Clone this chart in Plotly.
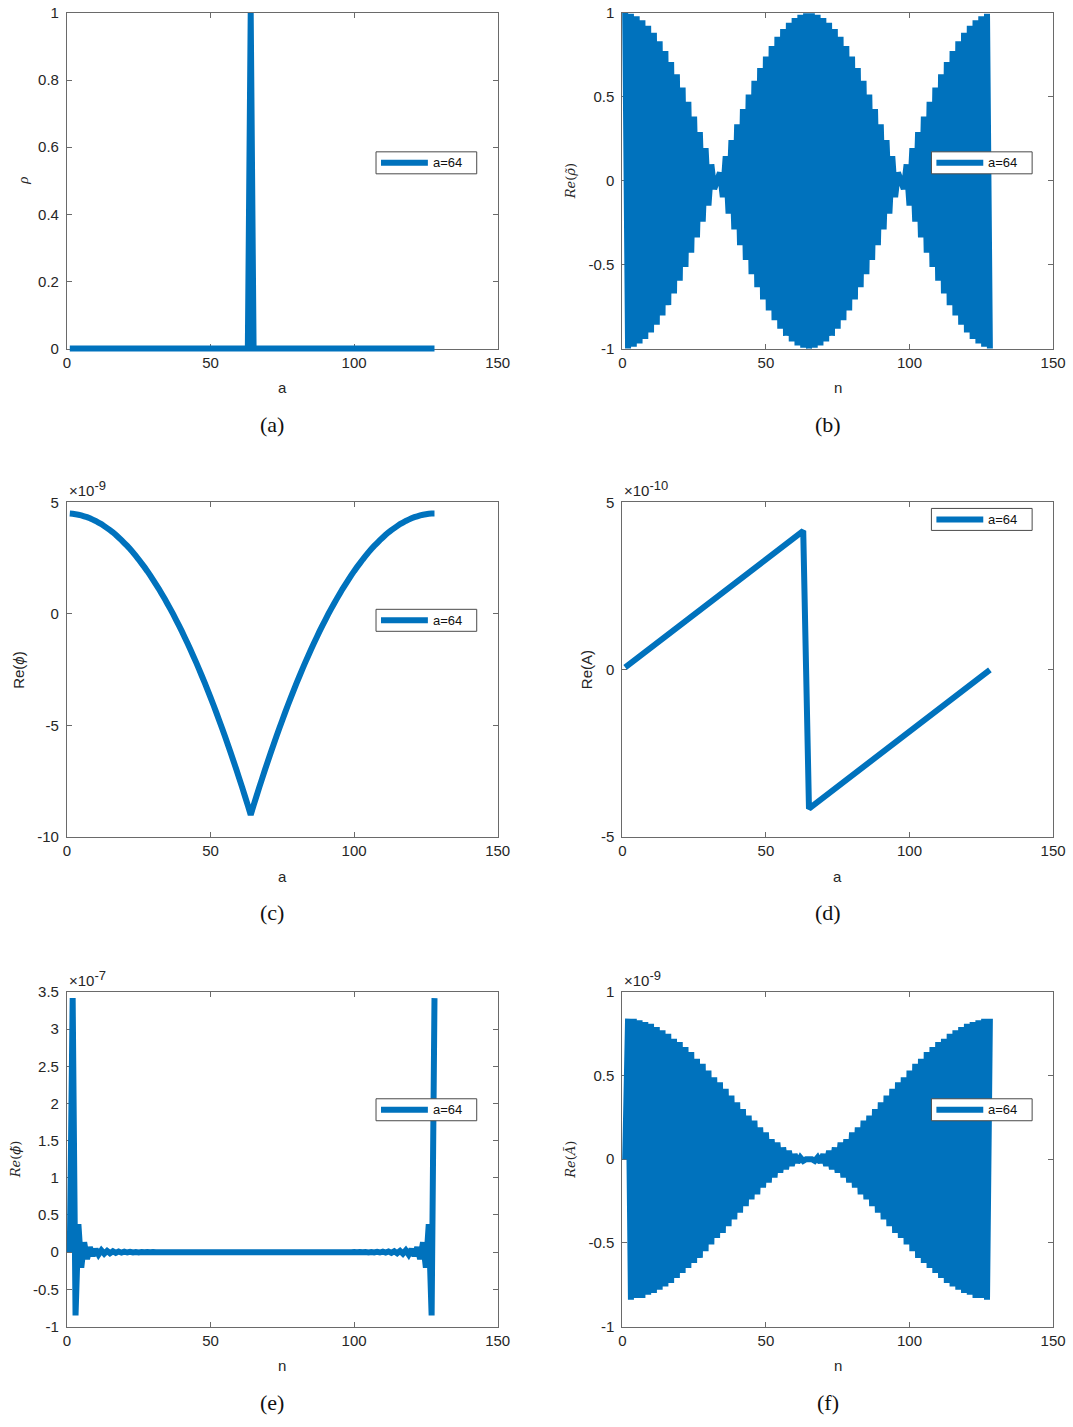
import plotly.graph_objects as go

W, H = 1073, 1427

# ---------------------------------------------------------------- data
# (a) charge density: one spike at a = 64
rho_a = [1, 63, 64, 65, 128]
rho = [0, 0, 1, 0, 0]

# (b) Re of the transformed density, n = 1..128
rho_tilde_re = [
    1.000, -0.999, 0.995, -0.989, 0.981, -0.970, 0.957, -0.942, 0.924, -0.904,
    0.882, -0.858, 0.831, -0.803, 0.773, -0.741, 0.707, -0.672, 0.634, -0.596,
    0.556, -0.514, 0.471, -0.428, 0.383, -0.337, 0.290, -0.243, 0.195, -0.147,
    0.098, -0.049, 0.000, 0.049, -0.098, 0.147, -0.195, 0.243, -0.290, 0.337,
    -0.383, 0.428, -0.471, 0.514, -0.556, 0.596, -0.634, 0.672, -0.707, 0.741,
    -0.773, 0.803, -0.831, 0.858, -0.882, 0.904, -0.924, 0.942, -0.957, 0.970,
    -0.981, 0.989, -0.995, 0.999, -1.000, 0.999, -0.995, 0.989, -0.981, 0.970,
    -0.957, 0.942, -0.924, 0.904, -0.882, 0.858, -0.831, 0.803, -0.773, 0.741,
    -0.707, 0.672, -0.634, 0.596, -0.556, 0.514, -0.471, 0.428, -0.383, 0.337,
    -0.290, 0.243, -0.195, 0.147, -0.098, 0.049, 0.000, -0.049, 0.098, -0.147,
    0.195, -0.243, 0.290, -0.337, 0.383, -0.428, 0.471, -0.514, 0.556, -0.596,
    0.634, -0.672, 0.707, -0.741, 0.773, -0.803, 0.831, -0.858, 0.882, -0.904,
    0.924, -0.942, 0.957, -0.970, 0.981, -0.989, 0.995, -0.999,
]

# (c) Re(phi) in units of 1e-9, a = 1..128
phi_re = [
    4.50, 4.49, 4.47, 4.45, 4.42, 4.38, 4.34, 4.29, 4.23, 4.17,
    4.10, 4.03, 3.94, 3.85, 3.76, 3.66, 3.55, 3.43, 3.31, 3.18,
    3.05, 2.91, 2.76, 2.60, 2.44, 2.27, 2.10, 1.92, 1.73, 1.53,
    1.33, 1.13, 0.91, 0.69, 0.46, 0.23, -0.01, -0.26, -0.51, -0.77,
    -1.04, -1.31, -1.59, -1.88, -2.17, -2.47, -2.78, -3.09, -3.41, -3.74,
    -4.07, -4.41, -4.76, -5.11, -5.47, -5.84, -6.21, -6.59, -6.97, -7.37,
    -7.76, -8.17, -8.58, -9.00,
    -8.58, -8.17, -7.76, -7.37, -6.97, -6.59, -6.21, -5.84, -5.47, -5.11,
    -4.76, -4.41, -4.07, -3.74, -3.41, -3.09, -2.78, -2.47, -2.17, -1.88,
    -1.59, -1.31, -1.04, -0.77, -0.51, -0.26, -0.01, 0.23, 0.46, 0.69,
    0.91, 1.13, 1.33, 1.53, 1.73, 1.92, 2.10, 2.27, 2.44, 2.60,
    2.76, 2.91, 3.05, 3.18, 3.31, 3.43, 3.55, 3.66, 3.76, 3.85,
    3.94, 4.03, 4.10, 4.17, 4.23, 4.29, 4.34, 4.38, 4.42, 4.45,
    4.47, 4.49, 4.50, 4.50,
]

# (d) Re(A) in units of 1e-10 (piecewise linear sawtooth)
A_a = [1, 63, 64, 65, 128]
A_re = [0.07, 4.15, 0.0, -4.15, 0.0]

# (e) Re(phi~) in units of 1e-7, n = 1..128
phi_tilde_re = [
    0.0, 3.416, -0.852, 0.377, -0.210, 0.133, -0.092, 0.066, -0.050, 0.039,
    -0.031, 0.025, -0.020, 0.017, -0.014, 0.012, -0.010, 0.008, -0.007, 0.006,
    -0.005, 0.004, -0.004, 0.003, -0.003, 0.002, -0.002, 0.001, -0.001, 0.001,
    0.0, 0.0, 0.0, 0.0, 0.0, 0.0, 0.0, 0.0, 0.0, 0.0,
    0.0, 0.0, 0.0, 0.0, 0.0, 0.0, 0.0, 0.0, 0.0, 0.0,
    0.0, 0.0, 0.0, 0.0, 0.0, 0.0, 0.0, 0.0, 0.0, 0.0,
    0.0, 0.0, 0.0, 0.0, 0.0, 0.0, 0.0, 0.0, 0.0, 0.0,
    0.0, 0.0, 0.0, 0.0, 0.0, 0.0, 0.0, 0.0, 0.0, 0.0,
    0.0, 0.0, 0.0, 0.0, 0.0, 0.0, 0.0, 0.0, 0.0, 0.0,
    0.0, 0.0, 0.0, 0.0, 0.0, 0.0, 0.0, 0.0, 0.0, 0.001,
    -0.001, 0.001, -0.002, 0.002, -0.003, 0.003, -0.004, 0.004, -0.005, 0.006,
    -0.007, 0.008, -0.010, 0.012, -0.014, 0.017, -0.020, 0.025, -0.031, 0.039,
    -0.050, 0.066, -0.092, 0.133, -0.210, 0.377, -0.852, 3.416,
]

# (f) Re(A~) in units of 1e-9, n = 1..128
A_tilde_re = [
    0.00, 0.84, -0.84, 0.84, -0.83, 0.83, -0.83, 0.82, -0.81, 0.81,
    -0.80, 0.79, -0.78, 0.77, -0.76, 0.75, -0.74, 0.72, -0.71, 0.70,
    -0.68, 0.67, -0.65, 0.64, -0.62, 0.60, -0.59, 0.57, -0.55, 0.53,
    -0.51, 0.49, -0.47, 0.46, -0.44, 0.42, -0.40, 0.38, -0.36, 0.34,
    -0.32, 0.30, -0.28, 0.26, -0.24, 0.23, -0.21, 0.19, -0.17, 0.16,
    -0.14, 0.12, -0.11, 0.10, -0.08, 0.07, -0.06, 0.05, -0.04, 0.03,
    -0.02, 0.01, -0.01, 0.00, 0.00, 0.00, -0.01, 0.01, -0.02, 0.03,
    -0.04, 0.05, -0.06, 0.07, -0.08, 0.10, -0.11, 0.12, -0.14, 0.16,
    -0.17, 0.19, -0.21, 0.23, -0.24, 0.26, -0.28, 0.30, -0.32, 0.34,
    -0.36, 0.38, -0.40, 0.42, -0.44, 0.46, -0.47, 0.49, -0.51, 0.53,
    -0.55, 0.57, -0.59, 0.60, -0.62, 0.64, -0.65, 0.67, -0.68, 0.70,
    -0.71, 0.72, -0.74, 0.75, -0.76, 0.77, -0.78, 0.79, -0.80, 0.81,
    -0.81, 0.82, -0.83, 0.83, -0.83, 0.84, -0.84, 0.84,
]

n_idx = list(range(1, len(rho_tilde_re) + 1))
a_idx = list(range(1, len(phi_re) + 1))

x_ticks = [0, 50, 100, 150]
legend_label = "a=64"

# ---------------------------------------------------------------- style
BLUE = "#0072BD"
AXC = "#6a6a6a"
TXT = "#262626"
SANS = "Liberation Sans, Arial, Helvetica, sans-serif"
SERIF = "Liberation Serif, Times New Roman, serif"
MSERIF = "DejaVu Serif, Liberation Serif, serif"
PAD = 6  # px of extra room so thick strokes are not cut at the frame

# page placement: the rendered page sits slightly inset and scaled,
# so target pixel positions are mapped through this offset/scale
OFF_X, SCALE_X = 2.9, 0.987
OFF_Y, SCALE_Y = 8.0, 0.9892

panels = [
    dict(box=(66, 12, 498, 348), x=rho_a, y=rho, yr=(0, 1),
         yt=[0, 0.2, 0.4, 0.6, 0.8, 1], ytt=["0", "0.2", "0.4", "0.6", "0.8", "1"],
         xlabel="a", ylabel="<i>ρ</i>", yfont=SERIF, ysize=15, ylx=22,
         cap="(a)", exp=None, leg=(376, 151)),
    dict(box=(623, 12, 1055, 348), x=n_idx, y=rho_tilde_re, yr=(-1, 1),
         yt=[-1, -0.5, 0, 0.5, 1], ytt=["-1", "-0.5", "0", "0.5", "1"],
         xlabel="n", ylabel="<i>Re</i>(<i>ρ̃</i>)", yfont=MSERIF, ysize=13, ylx=571,
         cap="(b)", exp=None, leg=(933, 151)),
    dict(box=(66, 502, 498, 837), x=a_idx, y=phi_re, yr=(-10, 5),
         yt=[-10, -5, 0, 5], ytt=["-10", "-5", "0", "5"],
         xlabel="a", ylabel="Re(<i>ϕ</i>)", yfont=SANS, ysize=15, ylx=18,
         cap="(c)", exp="-9", leg=(376, 609)),
    dict(box=(623, 502, 1055, 837), x=A_a, y=A_re, yr=(-5, 5),
         yt=[-5, 0, 5], ytt=["-5", "0", "5"],
         xlabel="a", ylabel="Re(A)", yfont=SANS, ysize=15, ylx=587,
         cap="(d)", exp="-10", leg=(933, 508)),
    dict(box=(66, 992, 498, 1327), x=n_idx, y=phi_tilde_re, yr=(-1, 3.5),
         yt=[-1, -0.5, 0, 0.5, 1, 1.5, 2, 2.5, 3, 3.5],
         ytt=["-1", "-0.5", "0", "0.5", "1", "1.5", "2", "2.5", "3", "3.5"],
         xlabel="n", ylabel="<i>Re</i>(<i>ϕ̃</i>)", yfont=MSERIF, ysize=13, ylx=14,
         cap="(e)", exp="-7", leg=(376, 1099)),
    dict(box=(623, 992, 1055, 1327), x=n_idx, y=A_tilde_re, yr=(-1, 1),
         yt=[-1, -0.5, 0, 0.5, 1], ytt=["-1", "-0.5", "0", "0.5", "1"],
         xlabel="n", ylabel="<i>Re</i>(<i>Ã</i>)", yfont=MSERIF, ysize=13, ylx=571,
         cap="(f)", exp="-9", leg=(933, 1099)),
]


def lx_(x):
    """target x pixel -> layout x pixel"""
    return (x - OFF_X) / SCALE_X


def ly_(y):
    """target y pixel -> layout y pixel"""
    return (y - OFF_Y) / SCALE_Y


def px(x):
    return min(max(lx_(x) / W, 0.0), 1.0)


def py(y):
    return min(max(1 - ly_(y) / H, 0.0), 1.0)


def sfx(k):
    return "" if k == 1 else str(k)


fig = go.Figure()
layout = {}
shapes = []
annotations = []

for i, p in enumerate(panels):
    L, T, R, B = p["box"]
    y0, y1 = p["yr"]
    frame_id = 2 * i + 1
    data_id = 2 * i + 2

    # visible frame with ticks on all four sides
    common = dict(ticks="inside", ticklen=5, tickwidth=1, tickcolor=AXC,
                  showline=True, linecolor=AXC, linewidth=1, mirror="ticks",
                  showgrid=False, zeroline=False, fixedrange=True,
                  tickfont=dict(family=SANS, size=15, color=TXT))
    layout["xaxis" + sfx(frame_id)] = dict(
        common, domain=[px(L), px(R)], range=[0, 150], tickmode="array",
        tickvals=x_ticks, ticktext=[str(v) for v in x_ticks],
        anchor="y" + sfx(frame_id))
    layout["yaxis" + sfx(frame_id)] = dict(
        common, domain=[py(B), py(T)], range=[y0, y1], tickmode="array",
        tickvals=p["yt"], ticktext=p["ytt"], anchor="x" + sfx(frame_id),
        ticklabelstandoff=4)
    fig.add_trace(go.Scatter(x=[], y=[], xaxis="x" + sfx(frame_id),
                             yaxis="y" + sfx(frame_id), showlegend=False,
                             hoverinfo="skip"))

    # hidden data axes on the same scale, a few px larger so line caps stay whole
    Lx, Rx, Ty, By = lx_(L), lx_(R), ly_(T), ly_(B)
    padL, padR = min(PAD, Lx), min(PAD, W - Rx)
    padT, padB = min(PAD, Ty), min(PAD, H - By)
    sx = 150 / (Rx - Lx)
    sy = (y1 - y0) / (By - Ty)
    layout["xaxis" + sfx(data_id)] = dict(
        visible=False, domain=[(Lx - padL) / W, (Rx + padR) / W],
        range=[-padL * sx, 150 + padR * sx], anchor="y" + sfx(data_id),
        fixedrange=True)
    layout["yaxis" + sfx(data_id)] = dict(
        visible=False, domain=[1 - (By + padB) / H, 1 - (Ty - padT) / H],
        range=[y0 - padB * sy, y1 + padT * sy], anchor="x" + sfx(data_id),
        fixedrange=True)
    fig.add_trace(go.Scatter(x=p["x"], y=p["y"], mode="lines",
                             line=dict(color=BLUE, width=6, simplify=False),
                             xaxis="x" + sfx(data_id), yaxis="y" + sfx(data_id),
                             showlegend=False, hoverinfo="skip"))

    cx = (L + R) / 2
    cy = (T + B) / 2
    # x axis title
    annotations.append(dict(text=p["xlabel"], x=px(cx), y=py(B + 39),
                            xref="paper", yref="paper", showarrow=False,
                            xanchor="center", yanchor="middle",
                            font=dict(family=SANS, size=15, color=TXT)))
    # y axis title
    annotations.append(dict(text=p["ylabel"], x=px(p["ylx"]), y=py(cy),
                            xref="paper", yref="paper", showarrow=False,
                            textangle=-90, xanchor="center", yanchor="middle",
                            font=dict(family=p["yfont"], size=p["ysize"], color=TXT)))
    # sub-figure caption
    annotations.append(dict(text=p["cap"], x=px(cx - 10), y=py(B + 76),
                            xref="paper", yref="paper", showarrow=False,
                            xanchor="center", yanchor="middle",
                            font=dict(family=SERIF, size=22, color="#111111")))
    # exponent marker
    if p["exp"]:
        annotations.append(dict(
            text="×10<sup><span style='font-size:13px'>" + p["exp"] + "</span></sup>",
            x=px(L), y=py(T - 1), xref="paper", yref="paper",
            showarrow=False, xanchor="left", yanchor="bottom",
            font=dict(family=SANS, size=15, color=TXT)))

    # legend box
    gx, gy = p["leg"]
    shapes.append(dict(type="rect", xref="paper", yref="paper",
                       x0=px(gx), x1=px(gx + 101), y0=py(gy + 22), y1=py(gy),
                       fillcolor="white", line=dict(color="#4a4a4a", width=1),
                       layer="above"))
    shapes.append(dict(type="line", xref="paper", yref="paper",
                       x0=px(gx + 5), x1=px(gx + 52), y0=py(gy + 11), y1=py(gy + 11),
                       line=dict(color=BLUE, width=6), layer="above"))
    annotations.append(dict(text=legend_label, x=px(gx + 55), y=py(gy + 11),
                            xref="paper", yref="paper", showarrow=False,
                            xanchor="left", yanchor="middle",
                            font=dict(family=SANS, size=13, color="#111111")))

fig.update_layout(
    width=W, height=H, autosize=False, margin=dict(l=0, r=0, t=0, b=0),
    paper_bgcolor="white", plot_bgcolor="rgba(0,0,0,0)",
    showlegend=False, shapes=shapes, annotations=annotations,
    **layout,
)

fig.write_html(
    "out.html",
    config={"responsive": False, "displayModeBar": False},
    default_width=f"{W}px",
    default_height=f"{H}px",
)
